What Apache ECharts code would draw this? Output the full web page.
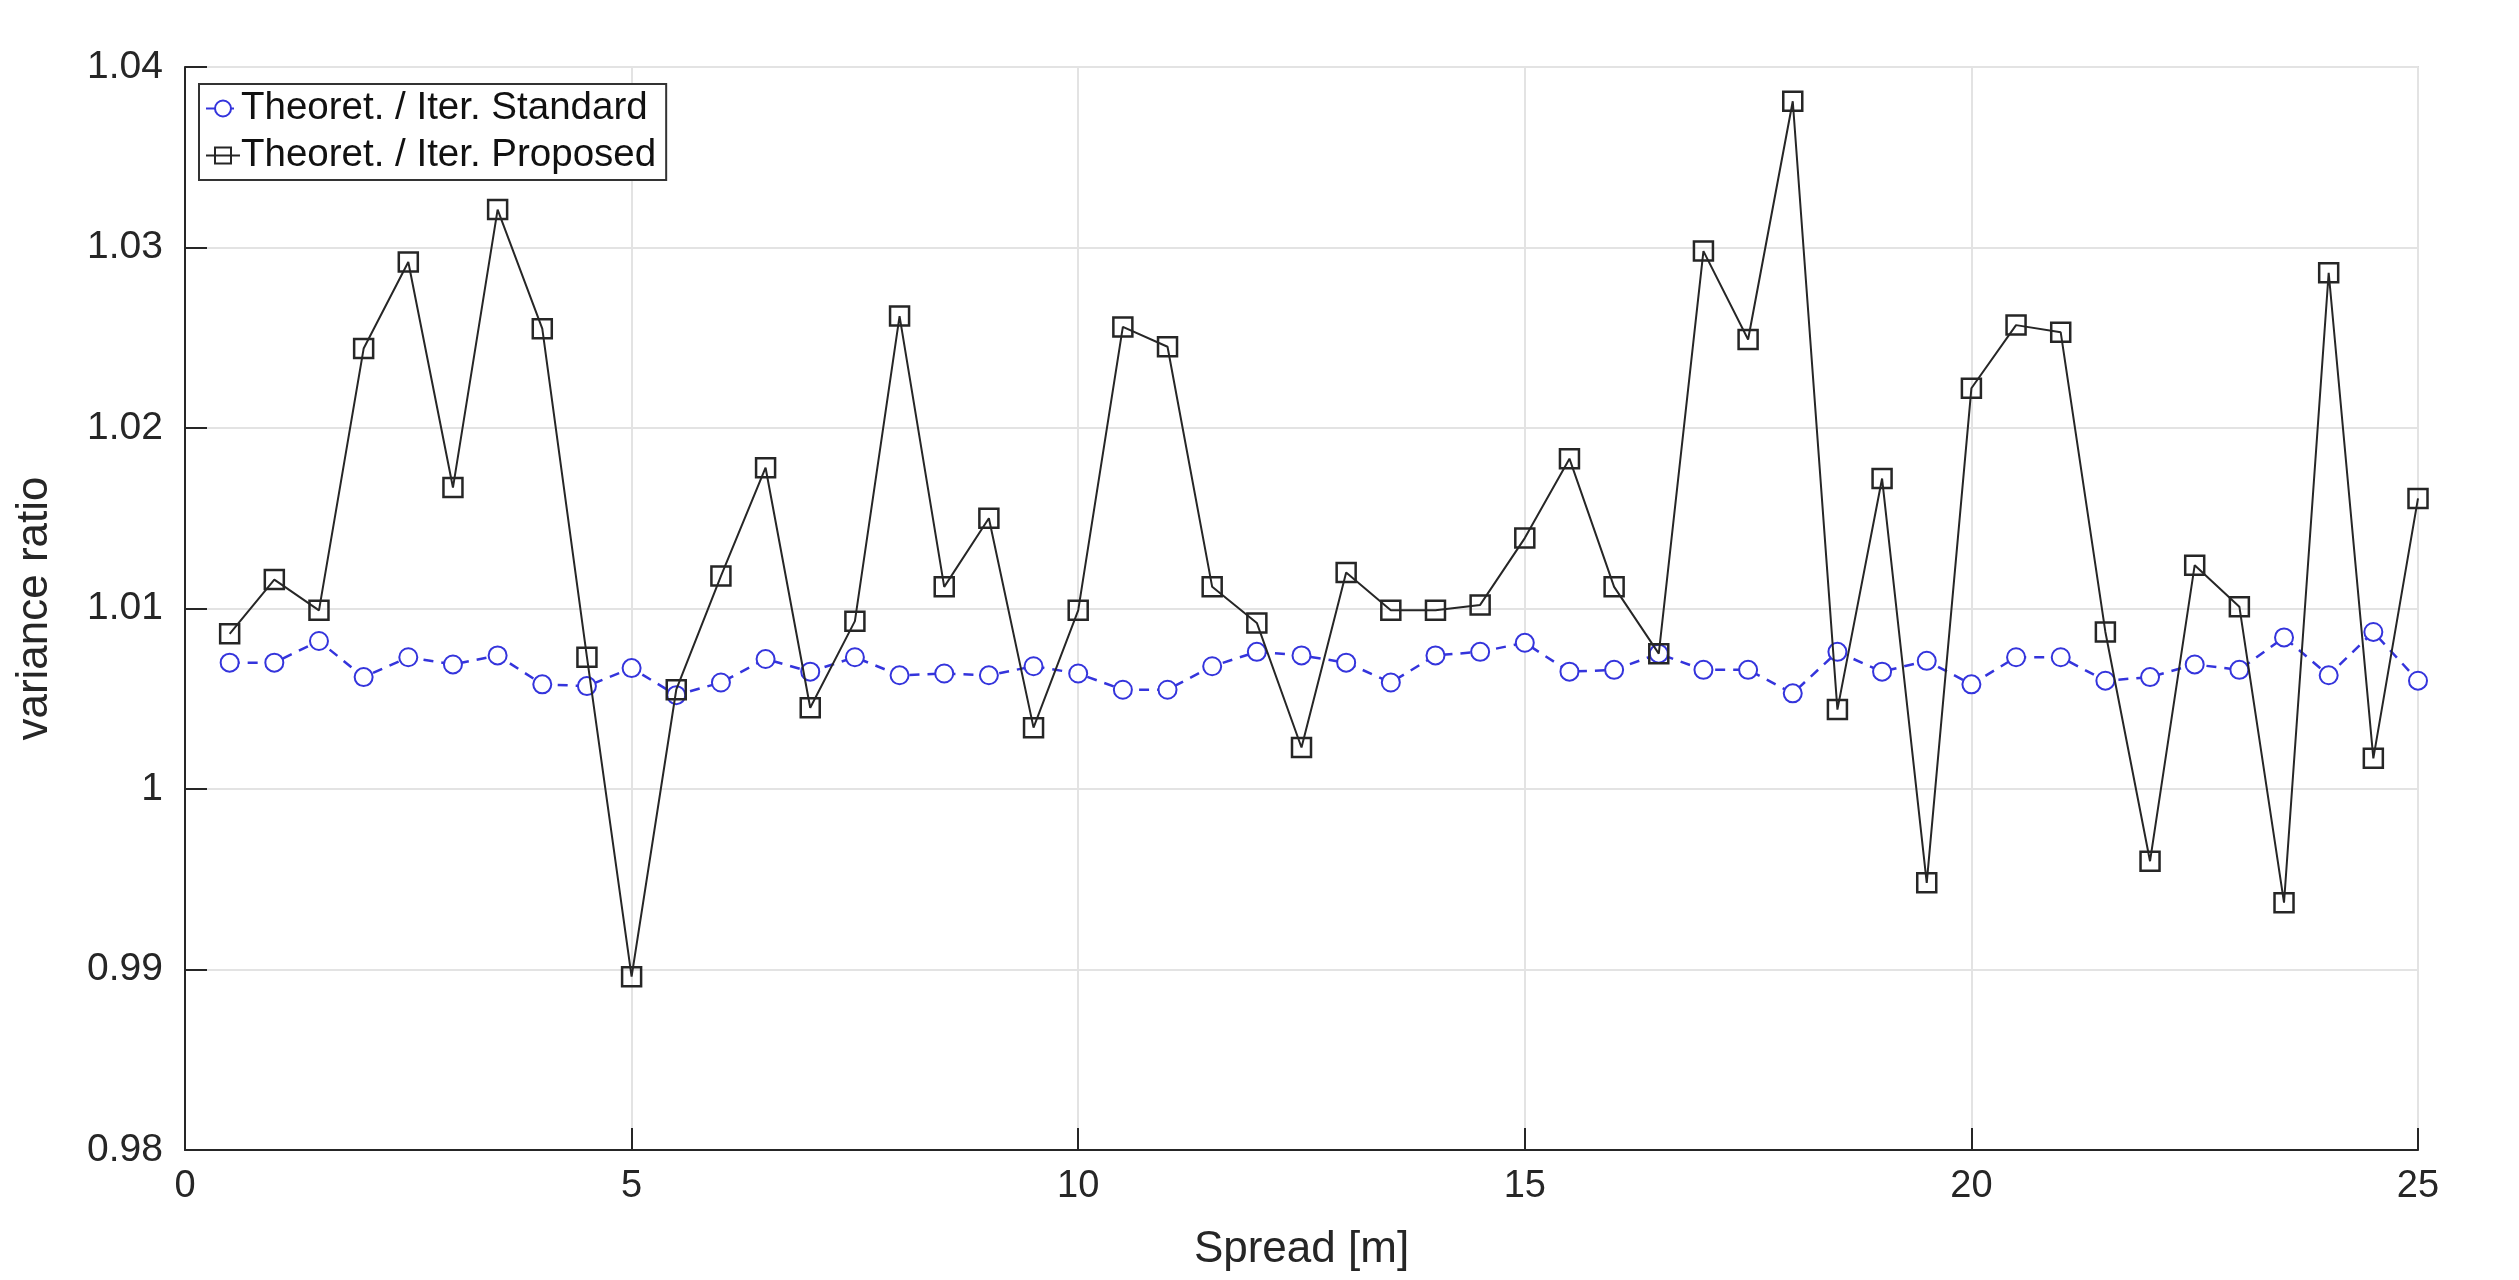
<!DOCTYPE html>
<html>
<head>
<meta charset="utf-8">
<script src="https://cdn.jsdelivr.net/npm/echarts@6/dist/echarts.min.js"></script>
<style>
html,body{margin:0;padding:0;background:#fff;}
#chart{width:2519px;height:1280px;}
</style>
</head>
<body>
<div id="chart"></div>
<script>
var spread = [0.5,1,1.5,2,2.5,3,3.5,4,4.5,5,5.5,6,6.5,7,7.5,8,8.5,9,9.5,10,10.5,11,11.5,12,12.5,13,13.5,14,14.5,15,15.5,16,16.5,17,17.5,18,18.5,19,19.5,20,20.5,21,21.5,22,22.5,23,23.5,24,24.5,25];
var standard = [1.0070,1.0070,1.0082,1.0062,1.0073,1.0069,1.0074,1.0058,1.0057,1.0067,1.0052,1.0059,1.0072,1.0065,1.0073,1.0063,1.0064,1.0063,1.0068,1.0064,1.0055,1.0055,1.0068,1.0076,1.0074,1.0070,1.0059,1.0074,1.0076,1.0081,1.0065,1.0066,1.0075,1.0066,1.0066,1.0053,1.0076,1.0065,1.0071,1.0058,1.0073,1.0073,1.0060,1.0062,1.0069,1.0066,1.0084,1.0063,1.0087,1.0060];
var proposed = [1.0086,1.0116,1.0099,1.0244,1.0292,1.0167,1.0321,1.0255,1.0073,0.9896,1.0055,1.0118,1.0178,1.0045,1.0093,1.0262,1.0112,1.0150,1.0034,1.0099,1.0256,1.0245,1.0112,1.0092,1.0023,1.0120,1.0099,1.0099,1.0102,1.0139,1.0183,1.0112,1.0075,1.0298,1.0249,1.0381,1.0044,1.0172,0.9948,1.0222,1.0257,1.0253,1.0087,0.9960,1.0124,1.0101,0.9937,1.0286,1.0017,1.0161];
var seriesNames = ['Theoret. / Iter. Standard','Theoret. / Iter. Proposed'];
var xTitle = 'Spread [m]';
var yTitle = 'variance ratio';

var FONT = '"Liberation Sans", Arial, Helvetica, sans-serif';
function pairs(ys){ return spread.map(function(x,i){ return [x, ys[i]]; }); }

var chart = echarts.init(document.getElementById('chart'), null, {renderer:'canvas'});
chart.setOption({
  animation:false,
  backgroundColor:'#ffffff',
  grid:{left:185, right:101, top:67, bottom:130, show:true, borderColor:'#dcdcdc', borderWidth:2, backgroundColor:'#ffffff'},
  legend:{
    orient:'vertical', left:199, top:84,
    backgroundColor:'#ffffff', borderColor:'#333333', borderWidth:2, borderRadius:0,
    padding:[5,10,5,6], itemGap:8, itemWidth:34, itemHeight:20,
    textStyle:{fontFamily:FONT, fontSize:38.5, color:'#111111', padding:[0,0,0,-4]},
    data:[{name:seriesNames[0]},{name:seriesNames[1]}]
  },
  xAxis:{
    type:'value', min:0, max:25, interval:5,
    name:xTitle, nameLocation:'middle', nameGap:78,
    nameTextStyle:{fontFamily:FONT, fontSize:44, color:'#262626'},
    axisLine:{show:true, lineStyle:{color:'#262626', width:2}},
    axisTick:{show:true, inside:true, length:22, lineStyle:{color:'#262626', width:2}},
    axisLabel:{fontFamily:FONT, fontSize:38, color:'#262626', margin:18},
    splitLine:{show:true, lineStyle:{color:'#e3e3e3', width:2}}
  },
  yAxis:{
    type:'value', min:0.98, max:1.04, interval:0.01,
    name:yTitle, nameLocation:'middle', nameGap:128, nameRotate:90,
    nameTextStyle:{fontFamily:FONT, fontSize:44, color:'#262626'},
    axisLine:{show:true, lineStyle:{color:'#262626', width:2}},
    axisTick:{show:true, inside:true, length:22, lineStyle:{color:'#262626', width:2}},
    axisLabel:{fontFamily:FONT, fontSize:39, color:'#262626', margin:22,
      formatter:function(v){ return String(parseFloat(v.toFixed(2))); }},
    splitLine:{show:true, lineStyle:{color:'#e3e3e3', width:2}}
  },
  series:[
    {
      name:seriesNames[0], type:'line', data:pairs(standard),
      symbol:'emptyCircle', symbolSize:18, showAllSymbol:true,
      lineStyle:{color:'#3434dc', width:2.5, type:[10,8]},
      itemStyle:{color:'#3434dc', borderColor:'#3434dc', borderWidth:2.5},
      z:3
    },
    {
      name:seriesNames[1], type:'line', data:pairs(proposed),
      symbol:'rect', symbolSize:19, showAllSymbol:true,
      lineStyle:{color:'#262626', width:2},
      itemStyle:{color:'rgba(0,0,0,0)', borderColor:'#262626', borderWidth:2.5},
      z:4
    }
  ]
});
</script>
</body>
</html>
